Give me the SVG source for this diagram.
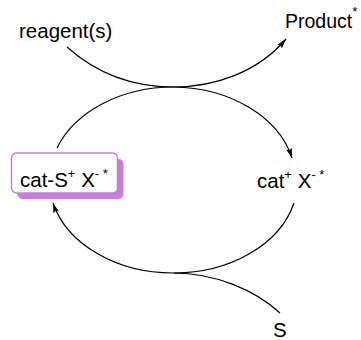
<svg xmlns="http://www.w3.org/2000/svg" width="361" height="340" viewBox="0 0 361 340">
<style>
text{font-family:"Liberation Sans",Arial,sans-serif;font-size:20.5px;fill:#000}
.sup{font-size:13px}
.c{fill:none;stroke:#000;stroke-width:1.2}
</style>
<defs>
<marker id="ah" viewBox="0 0 10 6" refX="10" refY="3" markerWidth="10" markerHeight="6" markerUnits="userSpaceOnUse" orient="auto">
<path d="M0,0 L10,3 L0,6 L2,3 Z" fill="#000"/>
</marker>
</defs>
<rect width="361" height="340" fill="#fff"/>
<g id="connectors">
<path class="c" d="M67,47 C95,72 130,87 173.5,87 C215,87 258,72 286,39" marker-end="url(#ah)"/>
<path class="c" d="M57,148 A124,93 0 0 1 173.5,87"/>
<path class="c" d="M173.5,87 A124,93 0 0 1 292,158" marker-end="url(#ah)"/>
<path class="c" d="M294,203 A124,93 0 0 1 173.5,273"/>
<path class="c" d="M173.5,273 A124,93 0 0 1 53,203" marker-end="url(#ah)"/>
<path class="c" d="M173.5,273 C215,273 255,290 280,313"/>
</g>
<g id="reagents"><text x="19" y="38">reagent(s)</text></g>
<g id="product"><text x="285" y="28" style="font-size:19.5px">Product<tspan class="sup" dy="-12">*</tspan></text></g>
<g id="catS">
<rect x="17.5" y="159" width="106" height="40" rx="5" fill="#c47fd6"/>
<rect x="11.5" y="153" width="106" height="40" rx="5" fill="#fff" stroke="#c47fd6" stroke-width="1.5"/>
<text x="20" y="187">cat-S<tspan class="sup" dy="-9">+</tspan><tspan dy="9"> X</tspan><tspan class="sup" dy="-9">-</tspan><tspan class="sup"> *</tspan></text>
</g>
<g id="catX"><text x="257" y="188">cat<tspan class="sup" dy="-9">+</tspan><tspan dy="9"> X</tspan><tspan class="sup" dy="-9">-</tspan><tspan class="sup"> *</tspan></text></g>
<g id="S"><text x="273" y="337">S</text></g>
</svg>
